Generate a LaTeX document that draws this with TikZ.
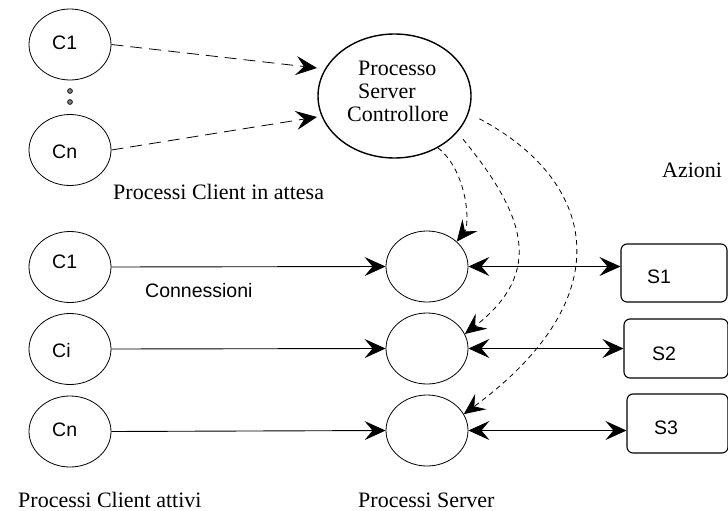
\documentclass[tikz,border=0pt]{standalone}
\usepackage{fontspec}
\setmainfont{Liberation Serif}
\setsansfont{Liberation Sans}
\usetikzlibrary{arrows.meta,shapes.geometric}
\begin{document}
\begin{tikzpicture}[x=1pt,y=-1pt,
  >={Stealth[length=21pt,width=19pt,inset=8pt]},
  proc/.style={draw,ellipse,line width=0.8pt,minimum width=82pt,minimum height=71pt,inner sep=0pt},
  ctrlproc/.style={draw,ellipse,line width=1.4pt,minimum width=153pt,minimum height=124pt,inner sep=0pt},
  action/.style={draw,rounded corners=6pt,line width=1.1pt,inner sep=0pt},
  serif/.style={font=\fontsize{22}{22}\selectfont,inner sep=0pt,anchor=base west},
  sanslbl/.style={font=\sffamily\fontsize{19.5}{19.5}\selectfont,inner sep=0pt,anchor=base west},
  conn/.style={line width=0.9pt},
  waitline/.style={line width=0.8pt,dash pattern=on 12pt off 7pt},
  ctrlline/.style={line width=0.8pt,dash pattern=on 5pt off 4pt}]
\useasboundingbox (0,0) rectangle (728,511);

% waiting clients
\node[proc] (wc1) at (70,44.5) {};
\node[proc] (wcn) at (70,150) {};
\draw[line width=0.7pt,fill=gray] (70,91) circle (2.4pt);
\draw[line width=0.7pt,fill=gray] (70,102) circle (2.4pt);
\node[sanslbl] (wc1t) at (52,49) {C1};
\node[sanslbl] (wcnt) at (52,158) {Cn};
\node[serif] (waitlbl) at (113,199) {Processi Client in attesa};

% controlling server process
\node[ctrlproc] (ctrl) at (394.5,96) {};
\node[serif] (ctrlt1) at (358,75) {Processo};
\node[serif] (ctrlt2) at (358,98) {Server};
\node[serif] (ctrlt3) at (347,121) {Controllore};
\coordinate (ctrlin1) at (317,68);
\coordinate (ctrlin2) at (317,117);
\draw[waitline,->] (wc1.east) -- (ctrlin1);
\draw[waitline,->] (wcn.east) -- (ctrlin2);

% active clients
\node[proc] (ac1) at (70,267) {};
\node[proc] (aci) at (70,349) {};
\node[proc] (acn) at (70,431.5) {};
\node[sanslbl] (ac1t) at (52,268) {C1};
\node[sanslbl] (acit) at (52,357) {Ci};
\node[sanslbl] (acnt) at (52,436) {Cn};
\node[sanslbl] (connlbl) at (145,297) {Connessioni};
\node[serif] (activelbl) at (18,507) {Processi Client attivi};

% server processes
\node[proc] (srv1) at (427,266.5) {};
\node[proc] (srv2) at (427,348.5) {};
\node[proc] (srv3) at (427,430.5) {};
\node[serif] (srvlbl) at (358,507) {Processi Server};

% actions
\node[action,minimum width=106pt,minimum height=58pt] (act1) at (674,273) {};
\node[action,minimum width=104pt,minimum height=59pt] (act2) at (676,348.5) {};
\node[action,minimum width=101pt,minimum height=59pt] (act3) at (677.5,423.5) {};
\node[sanslbl] (act1t) at (647,283) {S1};
\node[sanslbl] (act2t) at (652,360) {S2};
\node[sanslbl] (act3t) at (654,434) {S3};
\node[serif] (actlbl) at (662,177) {Azioni};

% connections
\draw[conn,->] (ac1.east) -- (srv1.west);
\draw[conn,->] (aci.east) -- (srv2.west);
\draw[conn,->] (acn.east) -- (srv3.west);
\draw[conn,<->] (srv1.east) -- (srv1.east -| act1.west);
\draw[conn,<->] (srv2.east) -- (srv2.east -| act2.west);
\draw[conn,<->] (srv3.east) -- (srv3.east -| act3.west);

% controller spawning server processes
\draw[ctrlline,->] (ctrl.-50) .. controls (468,172) and (470,225) .. (srv1.40);
\draw[ctrlline,->,shorten <=9pt] (ctrl.-30) .. controls (525,215) and (545,272) .. (srv2.21);
\draw[ctrlline,->,shorten <=12pt] (ctrl.-13) .. controls (595,180) and (625,295) .. (srv3.24);
\end{tikzpicture}
\end{document}
